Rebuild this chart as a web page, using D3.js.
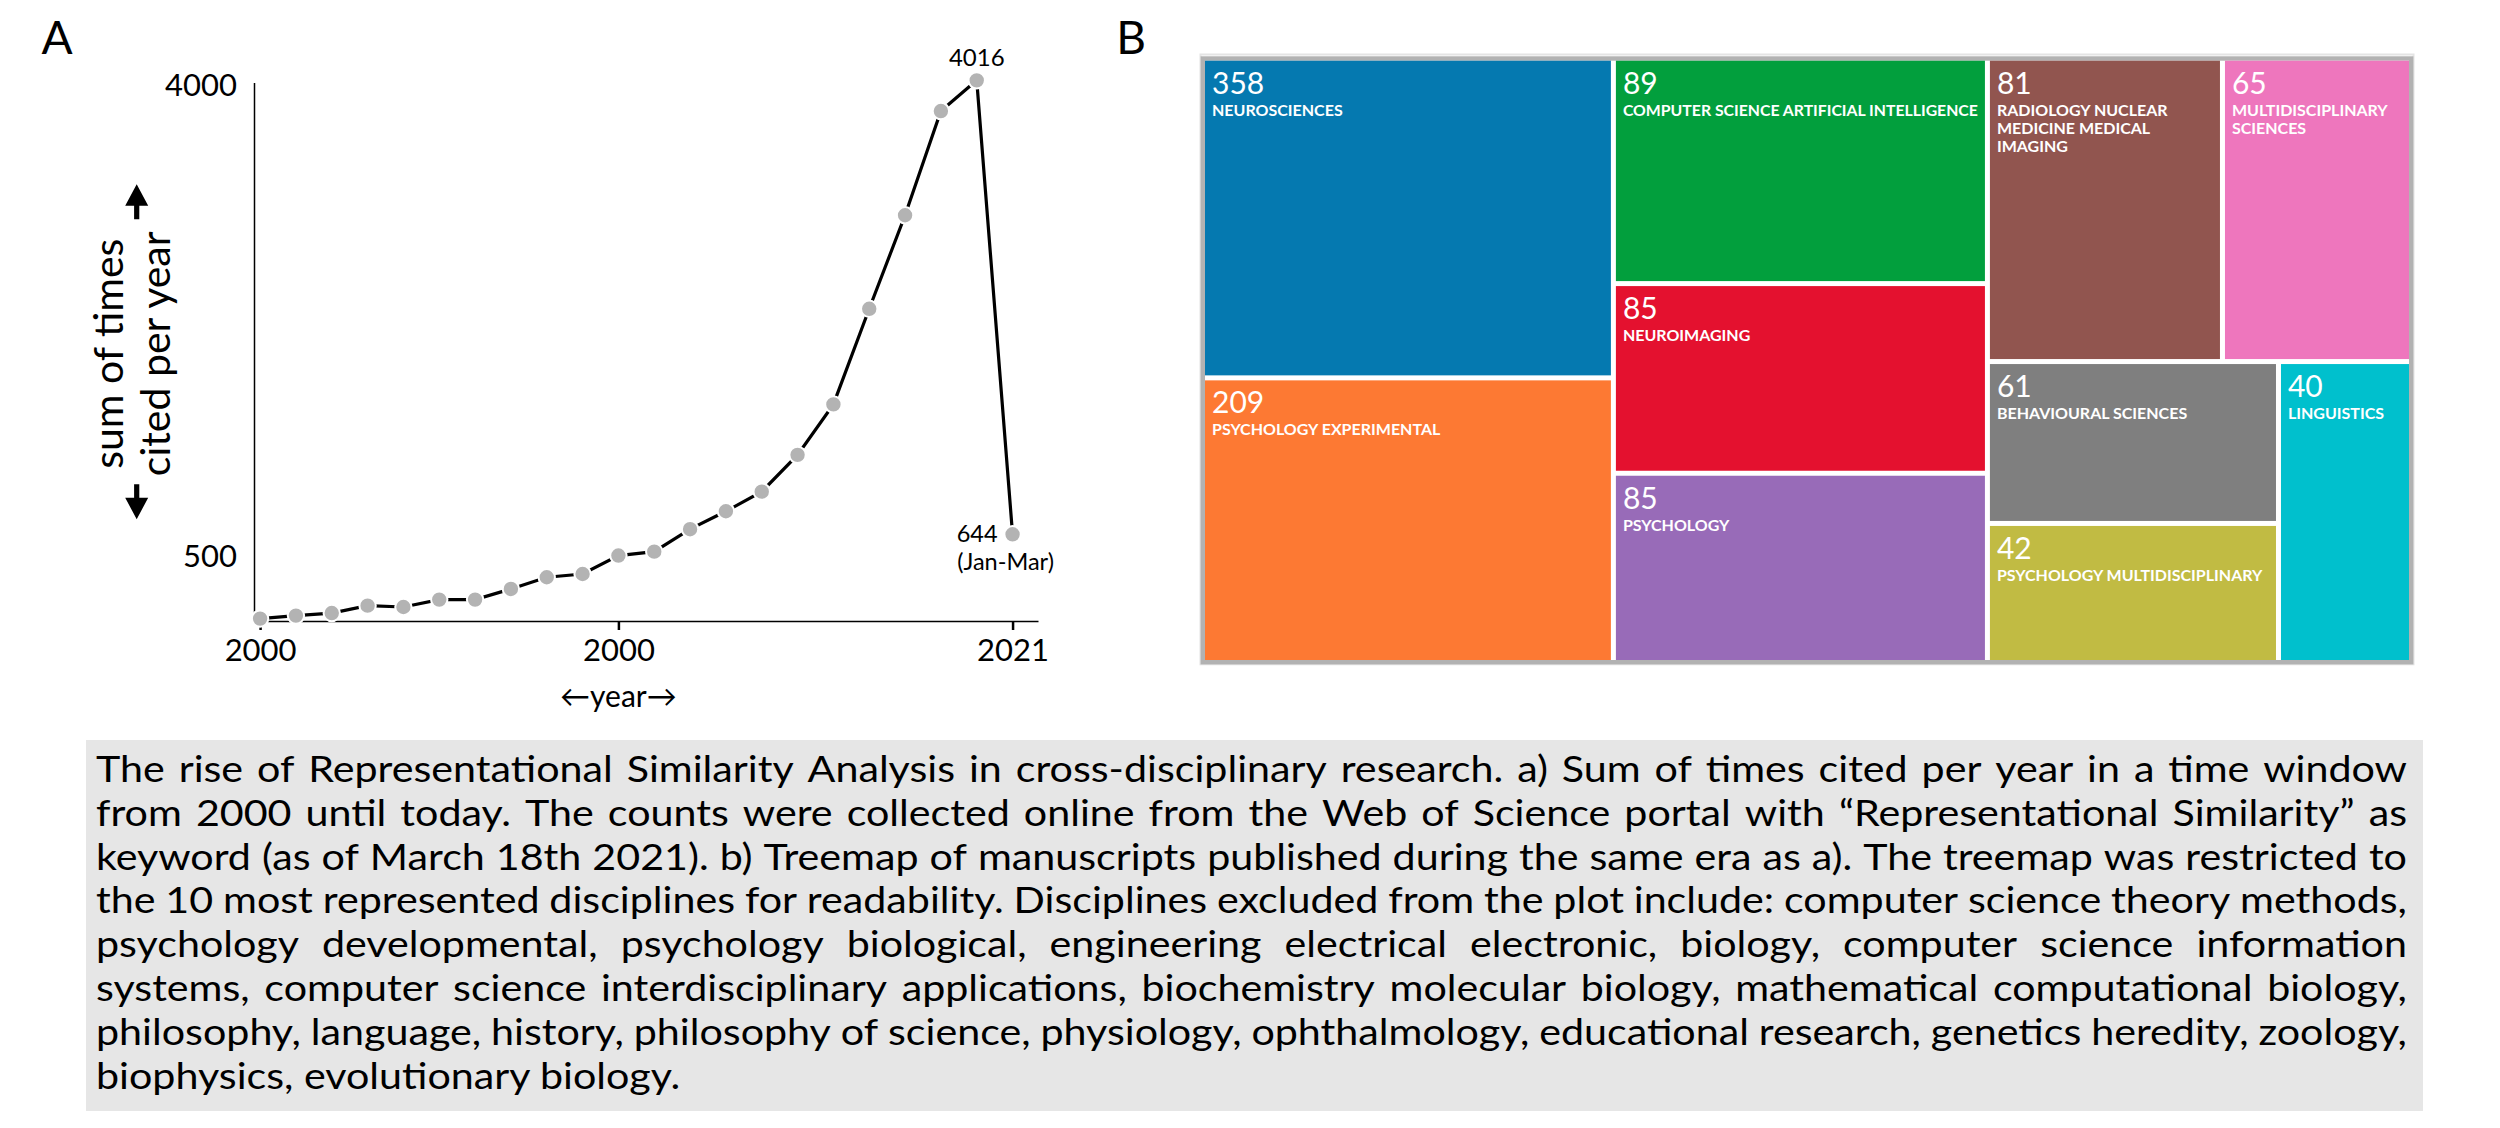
<!DOCTYPE html>
<html><head><meta charset="utf-8">
<script src="https://cdn.jsdelivr.net/npm/d3@7"></script>
<style>
html,body{margin:0;padding:0;background:#fff;}
svg{display:block;font-family:Lato,"Noto Sans",sans-serif;}
</style></head><body>
<svg id="chart" width="2500" height="1128"></svg>
<script>
// ---------- Panel A data ----------
const years = [2000,2001,2002,2003,2004,2005,2006,2007,2008,2009,2010,2011,2012,2013,2014,2015,2016,2017,2018,2019,2020,2021];
const citations = [18,40,59,114,104,159,159,238,325,349,486,515,682,815,961,1234,1609,2319,3014,3788,4016,644];
const yTickValues = [500, 4000];
const xTickValues = [2000, 2010, 2021];
const xTickLabels = ["2000", "2000", "2021"];
const peakYear = 2020;
const lastYear = 2021;
const lastNote = "(Jan-Mar)";
const yTitleLines = ["sum of times", "cited per year"];
const xTitle = "\u2190year\u2192";

// ---------- Panel B data ----------
const disciplines = ["NEUROSCIENCES","PSYCHOLOGY EXPERIMENTAL","COMPUTER SCIENCE ARTIFICIAL INTELLIGENCE","NEUROIMAGING","PSYCHOLOGY","RADIOLOGY NUCLEAR MEDICINE MEDICAL IMAGING","MULTIDISCIPLINARY SCIENCES","BEHAVIOURAL SCIENCES","PSYCHOLOGY MULTIDISCIPLINARY","LINGUISTICS"];
const manuscripts = [358,209,89,85,85,81,65,61,42,40];
// share of the treemap area each tile takes in the picture (%)
const tileShares = [17.98,16.01,11.54,9.71,9.69,9.76,7.85,6.45,5.54,5.48];
// nesting of the tiles in the picture
const tileGroups = ["1","1","2","2","2","3/a","3/a","3/b/a","3/b/a","3/b"];
const tileColors = ["#0579b0","#fd7933","#029f3d","#e4112f","#986bb8","#91554f","#ee76bd","#7f7f7f","#c1bb43","#00c0cd"];

// ---------- Caption ----------
const captionLines = [
 "The rise of Representational Similarity Analysis in cross-disciplinary research. a) Sum of times cited per year in a time window",
 "from 2000 until today. The counts were collected online from the Web of Science portal with \u201cRepresentational Similarity\u201d as",
 "keyword (as of March 18th 2021). b) Treemap of manuscripts published during the same era as a). The treemap was restricted to",
 "the 10 most represented disciplines for readability. Disciplines excluded from the plot include: computer science theory methods,",
 "psychology developmental, psychology biological, engineering electrical electronic, biology, computer science information",
 "systems, computer science interdisciplinary applications, biochemistry molecular biology, mathematical computational biology,",
 "philosophy, language, history, philosophy of science, physiology, ophthalmology, educational research, genetics heredity, zoology,",
 "biophysics, evolutionary biology."
];

const svg = d3.select("#chart");
svg.append("rect").attr("width",2500).attr("height",1128).attr("fill","#fff");

// panel letters
svg.append("text").attr("x",57).attr("y",54).attr("text-anchor","middle").attr("font-size",46).text("A");
svg.append("text").attr("x",1131).attr("y",54).attr("text-anchor","middle").attr("font-size",46).text("B");

// ================= Panel A =================
const x = d3.scaleLinear().domain([1999.83, 2021.71]).range([254, 1038]);
const y = d3.scaleLinear().domain([0, 4000]).range([621, 82.5]);

const gx = svg.append("g").attr("transform","translate(0,621)")
  .call(d3.axisBottom(x).tickValues(xTickValues).tickFormat((d,i)=>xTickLabels[i]).tickSize(9).tickSizeOuter(0).tickPadding(9));
gx.select(".domain").attr("stroke","#000").attr("stroke-width",1.5);
gx.selectAll(".tick line").attr("stroke","#000").attr("stroke-width",2.5);
gx.selectAll(".tick text").attr("font-size",31).attr("font-family","Lato").attr("fill","#000");

const gy = svg.append("g").attr("transform","translate(254,0)")
  .call(d3.axisLeft(y).tickValues(yTickValues).tickSize(0).tickSizeOuter(0).tickPadding(17).tickFormat(d3.format("d")));
gy.select(".domain").attr("stroke","#000").attr("stroke-width",1.5);
gy.selectAll(".tick text").attr("font-size",31).attr("font-family","Lato").attr("fill","#000").attr("dy","0.42em");

const pts = years.map((yr,i)=>({yr, v: citations[i]}));
svg.append("path").datum(pts)
  .attr("fill","none").attr("stroke","#000").attr("stroke-width",3.2)
  .attr("d", d3.line().x(d=>x(d.yr)).y(d=>y(d.v)));
svg.append("g").selectAll("circle").data(pts).join("circle")
  .attr("cx",d=>x(d.yr)).attr("cy",d=>y(d.v)).attr("r",8.2)
  .attr("fill","#b3b3b3").attr("stroke","#fff").attr("stroke-width",2);

// annotations
const peak = pts.find(d=>d.yr===peakYear), last = pts.find(d=>d.yr===lastYear);
svg.append("text").attr("x",x(peak.yr)).attr("y",y(peak.v)-14.5).attr("text-anchor","middle")
  .attr("font-size",24).text(String(peak.v));
svg.append("text").attr("x",x(last.yr)-15).attr("y",y(last.v)+7.5).attr("text-anchor","end")
  .attr("font-size",23.5).text(String(last.v));
svg.append("text").attr("x",x(last.yr)-7).attr("y",y(last.v)+36).attr("text-anchor","middle")
  .attr("font-size",23.5).text(lastNote);

// y title
const yMid = (y(0)+y(4000))/2 + 2;
[123,170].forEach((bx,i)=>{
  svg.append("text").attr("transform",`translate(${bx},${yMid}) rotate(-90)`)
    .attr("text-anchor","middle").attr("font-size",41).text(yTitleLines[i]);
});
function arrowPath(cx, tipY, dir){ // dir -1 up, +1 down
  const hl=21.5, hw=11.5, sw=2.6, sl=13.5;
  const b = tipY - dir*hl, e = b - dir*sl;
  return `M${cx},${tipY} L${cx+hw},${b} L${cx+sw},${b} L${cx+sw},${e} L${cx-sw},${e} L${cx-sw},${b} L${cx-hw},${b} Z`;
}
svg.append("path").attr("d",arrowPath(136.7, yMid-169.5, -1)).attr("fill","#000");
svg.append("path").attr("d",arrowPath(136.7, yMid+165.5, 1)).attr("fill","#000");

// x title
svg.append("text").attr("x",x(2010)).attr("y",707).attr("text-anchor","middle").attr("font-size",30).text(xTitle);

// ================= Panel B =================
const TX=1205, TY=60.7, TW=1204, TH=599.3;
// frame
svg.append("rect").attr("x",TX-4.5).attr("y",TY-6.2).attr("width",TW+9).attr("height",TH+10.5)
  .attr("fill","none").attr("stroke","#e4e4e4").attr("stroke-width",2);
svg.append("rect").attr("x",TX-2.2).attr("y",TY-2.2).attr("width",TW+4.4).attr("height",TH+4.4)
  .attr("fill","none").attr("stroke","#b2b2b2").attr("stroke-width",4.4);

const treeData = {key:"root", children:[]};
disciplines.forEach((name,i)=>{
  let node = treeData;
  tileGroups[i].split("/").forEach(k=>{
    let c = node.children.find(ch=>ch.key===k && ch.children);
    if(!c){ c={key:k, children:[]}; node.children.push(c); }
    node = c;
  });
  node.children.push({name, i, value: tileShares[i]});
});
const root = d3.hierarchy(treeData).sum(d=>d.value||0);
d3.treemap().size([TW,TH]).paddingInner(5).round(false)
  .tile((node,x0,y0,x1,y1)=> (node.depth%2===0 ? d3.treemapDice : d3.treemapSlice)(node,x0,y0,x1,y1))(root);

const gT = svg.append("g").attr("transform",`translate(${TX},${TY})`);
const leaves = root.leaves();
gT.selectAll("rect").data(leaves).join("rect")
  .attr("x",d=>d.x0).attr("y",d=>d.y0).attr("width",d=>d.x1-d.x0).attr("height",d=>d.y1-d.y0)
  .attr("fill",d=>tileColors[d.data.i]);

const meas = svg.append("text").attr("font-size",16).attr("font-weight","bold").attr("visibility","hidden");
function tw(s){ meas.text(s); return meas.node().getComputedTextLength(); }
leaves.forEach(d=>{
  const i = d.data.i;
  const g = gT.append("g").attr("fill","#fff");
  g.append("text").attr("x",d.x0+7).attr("y",d.y0+33).attr("font-size",30).text(manuscripts[i]);
  const maxW = d.x1-d.x0-14;
  const words = disciplines[i].split(" ");
  const lines=[]; let cur="";
  words.forEach(w=>{ const t = cur? cur+" "+w : w; if(cur && tw(t)>maxW*1.035){ lines.push(cur); cur=w; } else cur=t; });
  lines.push(cur);
  const t = g.append("text").attr("font-size",16).attr("font-weight","bold");
  lines.forEach((l,k)=>{
    const sp = t.append("tspan").attr("x",d.x0+7).attr("y",d.y0+55+k*18).text(l);
    if(tw(l)>maxW) sp.attr("textLength",maxW).attr("lengthAdjust","spacingAndGlyphs");
  });
});
meas.remove();

// ================= Caption =================
const CX=86, CY=740, CW=2337, CH=371;
svg.append("rect").attr("x",CX).attr("y",CY).attr("width",CW).attr("height",CH).attr("fill","#e6e6e6");
const capFont = 36, capStretch = 1.145, textX = 96, textW = 2311;
const capG = svg.append("g").attr("font-size",capFont).attr("fill","#000");
const cm = capG.append("text").attr("visibility","hidden");
function cw(s){ cm.text(s); return cm.node().getComputedTextLength(); }
const minGap = capFont*0.2;
captionLines.forEach((line,k)=>{
  const ty = 782 + k*43.8;
  const words = line.split(" ");
  const ws = words.map(cw);
  const last = k===captionLines.length-1;
  const natural = d3.sum(ws) + minGap*(words.length-1);
  const s = last ? capStretch : Math.min(capStretch, textW/natural);
  const t = capG.append("text").attr("transform",`translate(${textX},${ty}) scale(${s},1)`);
  if(last){ t.attr("x",0).text(line); return; }
  const gap = (textW/s - d3.sum(ws))/(words.length-1);
  let cx = 0;
  words.forEach((w,j)=>{ t.append("tspan").attr("x",cx).text(w); cx += ws[j]+gap; });
});
cm.remove();
</script>
</body></html>
